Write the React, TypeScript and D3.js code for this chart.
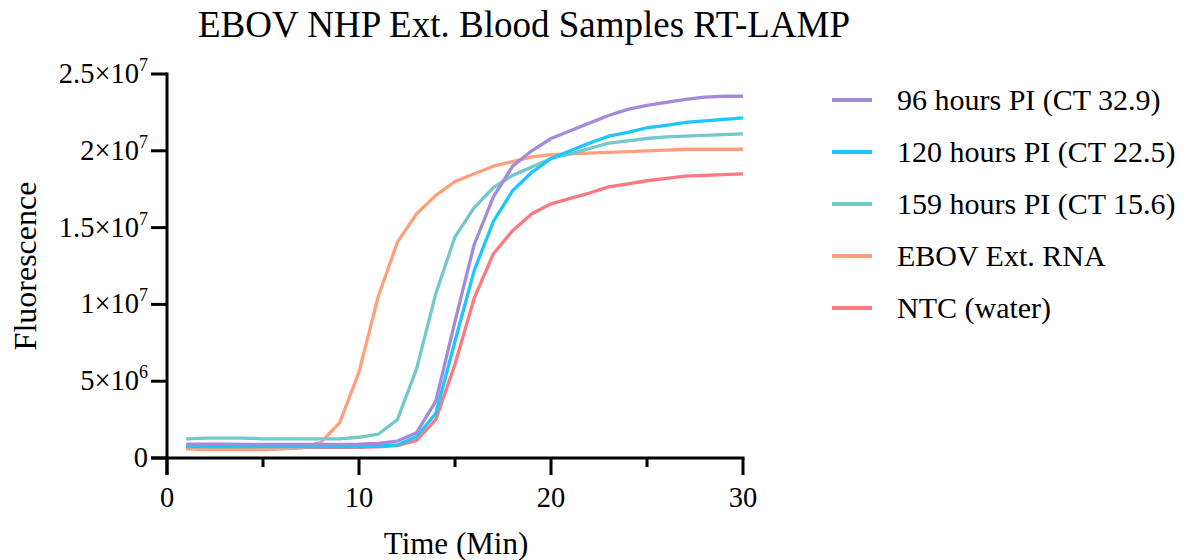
import React from "react";
import * as d3 from "d3";

const minutes = d3.range(1, 31);

const seriesNames = [
  "96 hours PI (CT 32.9)",
  "120 hours PI (CT 22.5)",
  "159 hours PI (CT 15.6)",
  "EBOV Ext. RNA",
  "NTC (water)",
];

const seriesColors = ["#a48ad8", "#1cc6ff", "#74c7ca", "#ffa07c", "#fa7a80"];

// values in units of 1e6
const hours96 = [0.9, 0.9, 0.9, 0.88, 0.88, 0.88, 0.88, 0.88, 0.88, 0.9, 0.95, 1.1, 1.65, 3.7, 8.9, 13.9, 17.0, 19.0, 20.0, 20.8, 21.3, 21.8, 22.3, 22.7, 22.95, 23.15, 23.35, 23.5, 23.55, 23.55];
const hours120 = [0.75, 0.75, 0.75, 0.75, 0.75, 0.75, 0.75, 0.75, 0.75, 0.75, 0.78, 0.85, 1.4, 2.9, 7.6, 12.2, 15.4, 17.4, 18.6, 19.5, 20.0, 20.5, 20.95, 21.2, 21.5, 21.65, 21.85, 21.95, 22.05, 22.15];
const hours159 = [1.25, 1.3, 1.3, 1.3, 1.25, 1.25, 1.25, 1.25, 1.25, 1.35, 1.55, 2.5, 5.8, 10.7, 14.4, 16.3, 17.6, 18.4, 18.95, 19.5, 19.8, 20.15, 20.5, 20.65, 20.8, 20.9, 20.95, 21.0, 21.05, 21.1];
const ebovRNA = [0.6, 0.55, 0.55, 0.55, 0.55, 0.6, 0.65, 1.0, 2.3, 5.6, 10.5, 14.05, 15.9, 17.1, 18.0, 18.5, 19.0, 19.3, 19.6, 19.75, 19.8, 19.85, 19.9, 19.95, 20.0, 20.05, 20.1, 20.1, 20.1, 20.1];
const ntcWater = [0.7, 0.7, 0.7, 0.7, 0.7, 0.7, 0.7, 0.7, 0.7, 0.7, 0.72, 0.8, 1.15, 2.5, 6.1, 10.4, 13.3, 14.8, 15.9, 16.55, 16.9, 17.25, 17.65, 17.85, 18.05, 18.2, 18.35, 18.4, 18.45, 18.5];

const seriesValues = [hours96, hours120, hours159, ebovRNA, ntcWater];

const yTicks = [0, 5e6, 1e7, 1.5e7, 2e7, 2.5e7];
const yTickMantissa = ["0", "5", "1", "1.5", "2", "2.5"];
const yTickExp = ["", "6", "7", "7", "7", "7"];
const xMajorTicks = [0, 10, 20, 30];
const xMinorTicks = [5, 15, 25];

const FONT = "'Liberation Serif', 'Times New Roman', serif";

export default function App() {
  const x = d3.scaleLinear().domain([0, 30]).range([167, 743]);
  const y = d3.scaleLinear().domain([0, 2.5e7]).range([458, 74]);
  const line = d3
    .line<number>()
    .x((_, i) => x(minutes[i]))
    .y((v) => y(v * 1e6));

  const order = [4, 3, 2, 1, 0];

  return (
    <svg width={1201} height={560} style={{ position: "absolute", left: 0, top: 0, background: "#fff" }} fontFamily={FONT}>
      <rect x={0} y={0} width={1201} height={560} fill="#fff" />
      <text x={524} y={37} fontSize={37} textAnchor="middle" fill="#000">
        EBOV NHP Ext. Blood Samples RT-LAMP
      </text>

      {/* series */}
      {order.map((k) => (
        <path
          key={k}
          d={line(seriesValues[k]) || ""}
          fill="none"
          stroke={seriesColors[k]}
          strokeWidth={3.3}
          strokeLinejoin="round"
        />
      ))}

      {/* y axis */}
      <line x1={x(0)} x2={x(0)} y1={y(2.5e7) - 1.5} y2={y(0) + 17} stroke="#000" strokeWidth={3} />
      {yTicks.map((t, i) => (
        <g key={t}>
          <line x1={x(0) - 16} x2={x(0)} y1={y(t)} y2={y(t)} stroke="#000" strokeWidth={3} />
          <text x={148} y={y(t) + 9} fontSize={28.5} textAnchor="end" fill="#000">
            {yTickExp[i] ? (
              <>
                {yTickMantissa[i]}×10
                <tspan fontSize={18} dy={-12}>{yTickExp[i]}</tspan>
              </>
            ) : (
              yTickMantissa[i]
            )}
          </text>
        </g>
      ))}

      {/* x axis */}
      <line x1={x(0) - 16} x2={x(30) + 1.5} y1={y(0)} y2={y(0)} stroke="#000" strokeWidth={3} />
      {xMajorTicks.map((t) => (
        <g key={t}>
          <line x1={x(t)} x2={x(t)} y1={y(0)} y2={y(0) + 17} stroke="#000" strokeWidth={3} />
          <text x={x(t)} y={507} fontSize={28.5} textAnchor="middle" fill="#000">
            {t}
          </text>
        </g>
      ))}
      {xMinorTicks.map((t) => (
        <line key={t} x1={x(t)} x2={x(t)} y1={y(0)} y2={y(0) + 9} stroke="#000" strokeWidth={3} />
      ))}

      <text x={456} y={554} fontSize={31} textAnchor="middle" fill="#000">
        Time (Min)
      </text>
      <text transform="translate(36,266) rotate(-90)" fontSize={32} textAnchor="middle" fill="#000">
        Fluorescence
      </text>

      {/* legend */}
      {seriesNames.map((name, i) => (
        <g key={name} transform={`translate(0, ${100 + i * 52})`}>
          <line x1={832} x2={872} y1={0} y2={0} stroke={seriesColors[i]} strokeWidth={4} />
          <text x={897} y={10} fontSize={30} fill="#000">
            {name}
          </text>
        </g>
      ))}
    </svg>
  );
}
